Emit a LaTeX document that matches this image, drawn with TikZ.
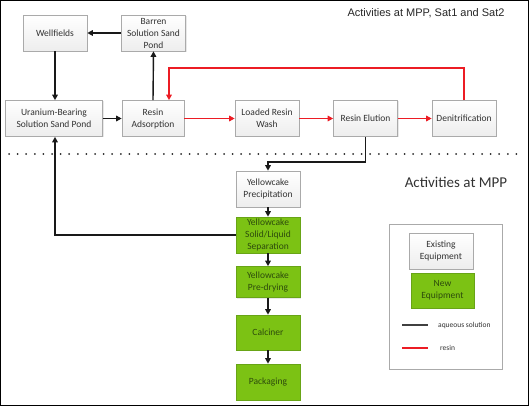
\documentclass[tikz,border=0pt]{standalone}
\usepackage{fontspec}
\setmainfont{Carlito}
\newfontfamily\arialfont{Liberation Sans}
\usepackage{xcolor}
\usepackage{tikz}
\usetikzlibrary{arrows.meta,positioning,calc,shadows}

\definecolor{boxline}{RGB}{170,170,170}
\definecolor{boxtext}{RGB}{50,50,50}
\definecolor{newgreen}{RGB}{124,194,20}
\definecolor{greenline}{RGB}{104,164,22}
\definecolor{greentext}{RGB}{45,75,12}
\definecolor{resinred}{RGB}{236,28,36}

\begin{document}
\begin{tikzpicture}[x=1pt,y=-1pt,
  unit/.style={draw=boxline,line width=0.6pt,align=center,inner sep=1pt,
    text=boxtext,font=\fontsize{9.5}{12}\selectfont,
    minimum width=64pt,minimum height=36pt,
    drop shadow={opacity=0.18,shadow xshift=1pt,shadow yshift=-1pt}},
  existing/.style={unit,top color=white,bottom color=gray!14},
  newunit/.style={unit,draw=greenline,fill=newgreen,text=greentext},
  aqueous/.style={line width=1.4pt,black!90},
  resinflow/.style={line width=1.4pt,resinred},
  flow/.style={-{Triangle[length=5.5pt,width=5.5pt]}}
]

\useasboundingbox (0,0) rectangle (529,406);
\draw[line width=1.2pt] (0.8,0.8) rectangle (528.2,405.2);

\def\ytop{33}
\def\yrow{118.5}
\def\yloop{68}
\def\ysplit{162}
\def\xcol{268}

% upper part
\node[existing] (wellfields) at (55,\ytop) {Wellfields};
\node[existing] (barren) at (153.5,\ytop) {Barren\\Solution Sand\\Pond};

\node[existing,minimum width=97pt] (uranium) at (54,\yrow) {Uranium-Bearing\\Solution Sand Pond};
\node[existing,minimum width=62pt] (adsorption) at (153,\yrow) {Resin\\Adsorption};
\node[existing] (wash) at (267,\yrow) {Loaded Resin\\Wash};
\node[existing] (elution) at (365.5,\yrow) {Resin Elution};
\node[existing] (denit) at (464,\yrow) {Denitrification};

\node[font=\arialfont\fontsize{11}{13}\selectfont,text=black!85] (titleA) at (426,13) {Activities at MPP, Sat1 and Sat2};

\draw[line width=2pt,dash pattern=on 0pt off 8.6pt,line cap=round,black!85] (9,154) -- (524,154);

% lower part
\node[font=\fontsize{15}{17}\selectfont,text=boxtext] (titleB) at (456,182) {Activities at MPP};

\node[existing] (precip) at (\xcol,189) {Yellowcake\\Precipitation};
\node[newunit] (separation) at (\xcol,235) {Yellowcake\\Solid/Liquid\\Separation};
\node[newunit,minimum height=31pt] (predry) at (\xcol,282) {Yellowcake\\Pre-drying};
\node[newunit,minimum height=35pt] (calciner) at (\xcol,332.5) {Calciner};
\node[newunit] (packaging) at (\xcol,382) {Packaging};

% aqueous solution
\draw[aqueous,flow] (barren.west) -- (wellfields.east);
\draw[aqueous,flow] (wellfields.south) -- (wellfields.south |- uranium.north);
\draw[aqueous,flow] (uranium.east) -- (adsorption.west);
\draw[aqueous,flow] (adsorption.north) -- (barren.south);
\draw[aqueous,flow] (elution.south) -- (elution.south |- 0,\ysplit) -| (precip.north);
\draw[aqueous,flow] (precip.south) -- (separation.north);
\draw[aqueous,flow] (separation.west) -| (wellfields.south |- uranium.south);
\draw[aqueous,flow] (separation.south) -- (predry.north);
\draw[aqueous,flow] (predry.south) -- (calciner.north);
\draw[aqueous,flow] (calciner.south) -- (packaging.north);

% resin
\draw[resinflow,flow] (adsorption.east) -- (wash.west);
\draw[resinflow,flow] (wash.east) -- (elution.west);
\draw[resinflow,flow] (elution.east) -- (denit.west);
\draw[resinflow,flow] (denit.north) -- (denit.north |- 0,\yloop) -| ([xshift=16pt]adsorption.north);

% legend
\node[draw=boxline,line width=0.6pt,minimum width=113pt,minimum height=145pt,
  drop shadow={opacity=0.15,shadow xshift=1pt,shadow yshift=-1pt},fill=white] (legend) at (445.5,296.5) {};
\node[existing] (legold) at (441,251) {Existing\\Equipment};
\node[newunit,minimum width=63pt,minimum height=35pt] (legnew) at (442.5,290.5) {New\\Equipment};

\coordinate (aqA) at (402,325);
\coordinate (aqB) at (428,325);
\coordinate (reA) at (402,348);
\coordinate (reB) at (428,348);
\draw[aqueous,line width=1.8pt,black!75] (aqA) -- (aqB);
\draw[resinflow,line width=1.8pt] (reA) -- (reB);
\node[anchor=west,font=\fontsize{7.5}{9}\selectfont,text=boxtext,inner sep=0pt] (aqtext) at (438,325) {aqueous solution};
\node[anchor=west,font=\fontsize{7.5}{9}\selectfont,text=boxtext,inner sep=0pt] (retext) at (440,348) {resin};

\end{tikzpicture}
\end{document}
